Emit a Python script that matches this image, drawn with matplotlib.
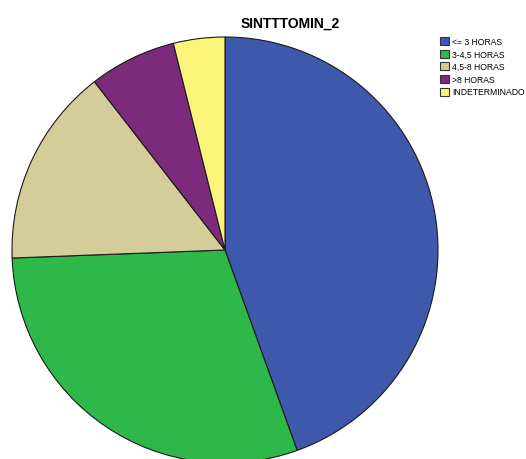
import matplotlib
matplotlib.use("Agg")
import matplotlib.pyplot as plt
from matplotlib.patches import Patch

plt.rcParams["font.family"] = ["Liberation Sans", "DejaVu Sans"]

# share of cases per symptom-onset interval (%)
categories = ["<= 3 HORAS", "3-4,5 HORAS", "4,5-8 HORAS", ">8 HORAS", "INDETERMINADO"]
shares = [44.5, 29.9, 15.1, 6.6, 3.9]
colors = ["#3E58AC", "#2EB84A", "#D4CD99", "#7B2A7C", "#FAF478"]

W, H = 526, 460
fig = plt.figure(figsize=(W / 100, H / 100), dpi=100)

# pie centre and radius in pixels
cx, cy, r = 225, 251, 213
ax = fig.add_axes([(cx - r) / W, (H - cy - r) / H, 2 * r / W, 2 * r / H])
ax.pie(
    shares,
    colors=colors,
    startangle=90,
    counterclock=False,
    radius=1.0,
    wedgeprops={"edgecolor": "#1a1a1a", "linewidth": 0.8},
)
ax.set_xlim(-1, 1)
ax.set_ylim(-1, 1)
ax.set_aspect("auto")
ax.axis("off")

fig.text(290 / W, 1 - 24 / H, "SINTTTOMIN_2", ha="center", va="center",
         fontsize=10, fontweight="bold")

handles = [Patch(facecolor=c, edgecolor="#333333", linewidth=0.8) for c in colors]
fig.legend(
    handles, categories,
    loc="upper left",
    bbox_to_anchor=(440 / W, 1 - 38 / H),
    frameon=False,
    fontsize=6.2,
    handlelength=1.05,
    handleheight=1.05,
    handletextpad=0.35,
    labelspacing=0.42,
    borderpad=0,
    borderaxespad=0,
)

fig.savefig("out.png", dpi=100)
